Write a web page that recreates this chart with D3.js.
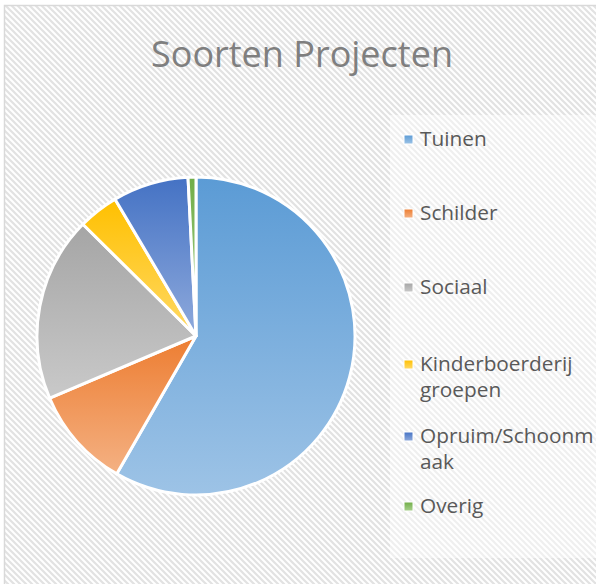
<!DOCTYPE html>
<html><head><meta charset="utf-8">
<script src="https://cdn.jsdelivr.net/npm/d3@7"></script>
<style>html,body{margin:0;padding:0;background:#fff;}svg{display:block;}</style>
</head><body>
<script>
const categories = ["Tuinen","Schilder","Sociaal","Kinderboerderij groepen","Opruim/Schoonmaak","Overig"];
const legendLines = [["Tuinen"],["Schilder"],["Sociaal"],["Kinderboerderij","groepen"],["Opruim/Schoonm","aak"],["Overig"]];
const values = [58.3, 10.3, 18.8, 4.1, 7.7, 0.8];
const colorsTop = ["#5B9BD5","#ED7D31","#A5A5A5","#FFC000","#4472C4","#70AD47"];
const colorsBottom = ["#9DC3E6","#F4B183","#C9C9C9","#FFD966","#8FAADC","#A9D18E"];
const title = "Soorten Projecten";

const W = 596, H = 584;
const svg = d3.select("body").append("svg").attr("width", W).attr("height", H);
const defs = svg.append("defs");

// hatch background pattern
const P = 6;
const pat = defs.append("pattern").attr("id","hatch").attr("patternUnits","userSpaceOnUse")
  .attr("width",P).attr("height",P);
pat.append("rect").attr("width",P).attr("height",P).attr("fill","#ffffff");
pat.append("path").attr("d",`M${-P/2},${P/2} L${P/2},${P*1.5} M${-P/2},${-P/2} L${P*1.5},${P*1.5} M${P/2},${-P/2} L${P*1.5},${P/2}`)
  .attr("stroke","#e2e2e2").attr("stroke-width",2.2);

svg.append("rect").attr("x",0).attr("y",0).attr("width",W).attr("height",H).attr("fill","#fff");
svg.append("rect").attr("x",4.5).attr("y",5.5).attr("width",W+10).attr("height",H+10)
  .attr("fill","url(#hatch)").attr("stroke","#d9d9d9").attr("stroke-width",1.5);

// title
svg.append("text").attr("x",302).attr("y",67).attr("text-anchor","middle")
  .attr("font-family","'Open Sans', sans-serif").attr("font-weight",380)
  .attr("font-size",36).attr("fill","#7f7f7f").text(title);

// gradients
categories.forEach((c,i)=>{
  const g = defs.append("linearGradient").attr("id","grad"+i)
    .attr("x1",0).attr("y1",0).attr("x2",0).attr("y2",1);
  g.append("stop").attr("offset","0%").attr("stop-color",colorsTop[i]);
  g.append("stop").attr("offset","100%").attr("stop-color",colorsBottom[i]);
});

// pie
const cx = 196, cy = 336, R = 159;
const pie = d3.pie().sort(null).value(d=>d);
const arc = d3.arc().innerRadius(0).outerRadius(R);
const gPie = svg.append("g").attr("transform",`translate(${cx},${cy})`);
gPie.selectAll("path").data(pie(values)).join("path")
  .attr("d",arc).attr("fill",(d,i)=>`url(#grad${i})`)
  .attr("stroke","#ffffff").attr("stroke-width",3).attr("stroke-linejoin","round");

// legend
svg.append("rect").attr("x",390).attr("y",115).attr("width",220).attr("height",443)
  .attr("fill","#ffffff").attr("fill-opacity",0.45);
const legendBaselines = [146,220,294,371,443,513];
const lineH = 26;
const gLeg = svg.append("g");
categories.forEach((c,i)=>{
  const y0 = legendBaselines[i];
  gLeg.append("rect").attr("x",404).attr("y",y0-11).attr("width",9).attr("height",9)
    .attr("fill",`url(#grad${i})`).attr("stroke","#fff").attr("stroke-width",1);
  const t = gLeg.append("text").attr("x",420).attr("y",y0)
    .attr("font-family","'Open Sans', sans-serif").attr("font-size",20.8).attr("fill","#595959");
  legendLines[i].forEach((ln,j)=>{
    t.append("tspan").attr("x",420).attr("y",y0+j*lineH).text(ln);
  });
});
</script>
</body></html>
